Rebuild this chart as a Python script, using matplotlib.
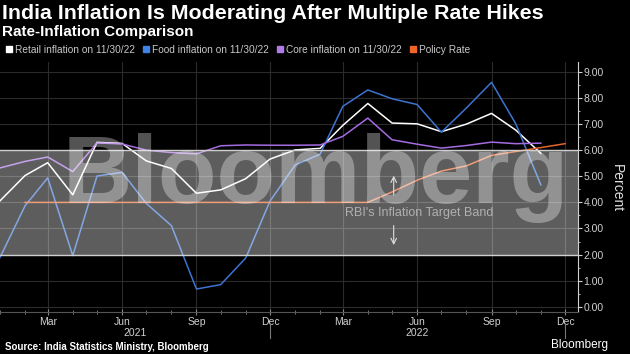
import matplotlib.pyplot as plt
import matplotlib.dates as mdates
from matplotlib.patches import Patch
import pandas as pd

# Data
months = pd.date_range('2021-01-01', '2022-11-01', freq='MS')
retail = [4.06, 5.03, 5.52, 4.29, 6.30, 6.26, 5.59, 5.30, 4.35, 4.48, 4.91, 5.66,
          6.01, 6.07, 6.95, 7.79, 7.04, 7.01, 6.71, 7.00, 7.41, 6.77, 5.88]
food = [1.89, 3.87, 4.94, 1.96, 5.01, 5.15, 3.96, 3.11, 0.68, 0.85, 1.87, 4.05,
        5.43, 5.85, 7.68, 8.31, 7.97, 7.75, 6.69, 7.62, 8.60, 7.01, 4.67]
core = [5.32, 5.57, 5.74, 5.18, 6.28, 6.24, 6.00, 5.91, 5.86, 6.17, 6.20, 6.19,
        6.19, 6.20, 6.53, 7.23, 6.40, 6.23, 6.08, 6.18, 6.31, 6.25, 6.27]
policy_months = pd.date_range('2021-02-01', '2022-12-01', freq='MS')
policy = [4.00] * 15 + [4.40, 4.85, 5.20, 5.40, 5.80, 5.95, 6.10, 6.25]

labels = ['Retail inflation on 11/30/22', 'Food inflation on 11/30/22',
          'Core inflation on 11/30/22', 'Policy Rate']
colors = ['#ffffff', '#3d74d0', '#a56ce0', '#e5632c']
legend_colors = ['#ffffff', '#3f83e6', '#b07be8', '#f0642a']

plt.rcParams['font.family'] = ['Liberation Sans', 'DejaVu Sans']

fig = plt.figure(figsize=(6.3, 3.54), dpi=100, facecolor='black')
ax = fig.add_axes([0, 0.1186, 0.9175, 0.7063], facecolor='black')

ax.plot(months, retail, color=colors[0], lw=1.1, zorder=3)
ax.plot(months, food, color=colors[1], lw=1.1, zorder=3)
ax.plot(months, core, color=colors[2], lw=1.1, zorder=3)
ax.plot(policy_months, policy, color=colors[3], lw=1.1, zorder=3)

# inflation target band
ax.axhspan(2, 6, facecolor='white', alpha=0.37, lw=0, zorder=5)
ax.axhline(2, color='#cfcfcf', lw=1, zorder=6)
ax.axhline(6, color='#cfcfcf', lw=1, zorder=6)

arrow_x = pd.Timestamp('2022-05-03')
ax.annotate('', xy=(arrow_x, 5.13), xytext=(arrow_x, 4.18),
            arrowprops=dict(arrowstyle='->', color='#e0e0e0', lw=0.8), zorder=8)
ax.annotate('', xy=(arrow_x, 2.26), xytext=(arrow_x, 3.22),
            arrowprops=dict(arrowstyle='->', color='#e0e0e0', lw=0.8), zorder=8)
ax.text(pd.Timestamp('2022-06-03'), 3.6, "RBI's Inflation Target Band", color='#b0b0b0',
        fontsize=9, ha='center', va='center', zorder=8)

# watermark
ax.text(0.547, 0.436, 'Bloomberg', transform=ax.transAxes, fontsize=69, fontweight='bold',
        color='white', alpha=0.33, ha='center', va='baseline', zorder=7)

ax.set_xlim(pd.Timestamp('2021-01-01'), pd.Timestamp('2022-12-17'))
ax.set_ylim(-0.2, 9.38)

ax.xaxis.set_major_locator(mdates.MonthLocator(bymonth=[3, 6, 9, 12]))
ax.xaxis.set_major_formatter(mdates.DateFormatter('%b'))
ax.xaxis.set_minor_locator(mdates.MonthLocator())
ax.yaxis.tick_right()
ax.set_yticks(range(0, 10))
ax.set_yticks([i + 0.5 for i in range(0, 9)], minor=True)
ax.yaxis.set_major_formatter(plt.FormatStrFormatter('%.2f'))

ax.grid(True, color='#2b2b2b', lw=0.8, zorder=1)
for s in ['top', 'left']:
    ax.spines[s].set_visible(False)
ax.spines['right'].set_color('#d0d0d0')
ax.spines['bottom'].set_color('#555555')
ax.tick_params(axis='x', which='both', colors='#888888', labelcolor='#d0d0d0',
               labelsize=7.5, pad=1.5, direction='inout')
ax.tick_params(axis='x', which='major', length=4)
ax.tick_params(axis='x', which='minor', length=3)
ax.tick_params(axis='y', which='both', colors='#d0d0d0', labelsize=7.5, pad=1)
ax.tick_params(axis='y', which='major', length=3)
ax.tick_params(axis='y', which='minor', length=1.5)

# year labels and separators
xt = ax.get_xaxis_transform()
for d in ['2021-12-01', '2022-12-01']:
    ax.plot([pd.Timestamp(d)] * 2, [-0.044, -0.104], transform=xt, color='#777777',
            lw=0.8, clip_on=False)
ax.text(pd.Timestamp('2021-06-17'), -0.084, '2021', transform=xt, color='#d0d0d0',
        fontsize=7.5, ha='center', va='center')
ax.text(pd.Timestamp('2022-06-01'), -0.084, '2022', transform=xt, color='#d0d0d0',
        fontsize=7.5, ha='center', va='center')

fig.text(0.979, 0.47, 'Percent', rotation=270, color='#e0e0e0', fontsize=10,
         ha='center', va='center')

fig.text(0.003, 0.963, 'India Inflation Is Moderating After Multiple Rate Hikes',
         color='white', fontsize=15.4, fontweight='bold', va='center')
fig.text(0.003, 0.910, 'Rate-Inflation Comparison', color='white', fontsize=11,
         fontweight='bold', va='center')

handles = [Patch(color=c) for c in legend_colors]
fig.legend(handles, labels, loc='center left', bbox_to_anchor=(6 / 630, 0.859), ncol=4,
           frameon=False, fontsize=7.3, labelcolor='#c8c8c8', handlelength=0.55,
           handleheight=0.55, handletextpad=0.3, columnspacing=0.85, borderpad=0,
           borderaxespad=0)

fig.text(0.008, 0.020, 'Source: India Statistics Ministry, Bloomberg', color='white',
         fontsize=7, fontweight='bold', va='center')
fig.text(0.875, 0.025, 'Bloomberg', color='white', fontsize=8.5, va='center')

fig.savefig('out.png', dpi=100, facecolor='black')
